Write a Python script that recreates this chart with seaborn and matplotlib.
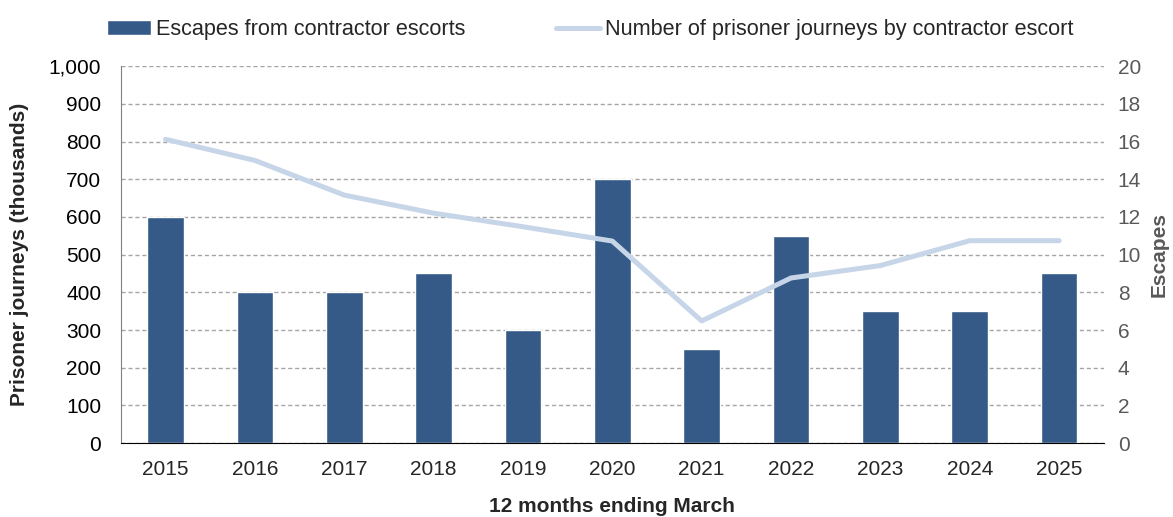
import numpy as np
import pandas as pd
import matplotlib
matplotlib.use("Agg")
import matplotlib.pyplot as plt
from matplotlib.ticker import FuncFormatter, FixedLocator
import seaborn as sns

years = ["2015", "2016", "2017", "2018", "2019", "2020",
         "2021", "2022", "2023", "2024", "2025"]
escapes = [12, 8, 8, 9, 6, 14, 5, 11, 7, 7, 9]
journeys = [806, 750, 658, 610, 574, 536, 324, 438, 471, 537, 537]

bar_label = "Escapes from contractor escorts"
line_label = "Number of prisoner journeys by contractor escort"

data = pd.DataFrame({"year": years, "escapes": escapes, "journeys": journeys})

sns.set_style("white")
plt.rcParams["font.family"] = ["Liberation Sans", "DejaVu Sans"]

fig, ax = plt.subplots(figsize=(11.73, 5.17), dpi=100)
fig.subplots_adjust(left=0.103, right=0.941, bottom=0.143, top=0.872)
ax2 = ax.twinx()

# bars on the right axis (escapes), drawn underneath the line axis
sns.barplot(data=data, x="year", y="escapes", ax=ax2, color="#355a87",
            width=0.41, saturation=1, label=bar_label)
ax2.set_ylim(0, 20)
ax2.set_yticks(range(0, 21, 2))
ax2.grid(axis="y", color="#a6a6a6", linestyle=(0, (3, 2)), linewidth=1)
ax2.set_axisbelow(True)
ax2.tick_params(axis="y", colors="#595959", labelsize=15, length=0, pad=10)
ax2.set_ylabel("Escapes", fontsize=15, fontweight="bold", color="#595959", labelpad=6)

# line on the left axis (journeys)
ax.set_zorder(ax2.get_zorder() + 1)
ax.patch.set_visible(False)
sns.lineplot(x=np.arange(len(years)), y=data["journeys"], ax=ax, color="#c6d5e8",
             linewidth=3.6, solid_capstyle="round", label=line_label)
ax.set_ylim(0, 1000)
ax.set_yticks(range(0, 1001, 100))
ax.yaxis.set_major_formatter(FuncFormatter(lambda v, p: f"{int(v):,}"))
ax.tick_params(axis="y", colors="black", labelsize=15, length=0, pad=14)
ax.set_ylabel("Prisoner journeys (thousands)", fontsize=15, fontweight="bold", labelpad=14)

for a in (ax, ax2):
    a.set_xlim(-0.5, len(years) - 0.5)
    a.xaxis.set_major_locator(FixedLocator(np.arange(-0.5, len(years), 1)))
    a.xaxis.set_minor_locator(FixedLocator(np.arange(len(years))))
    a.set_xticklabels([], minor=False)
    a.set_xlabel("")
ax.set_xticklabels(years, minor=True)
ax.tick_params(axis="x", which="major", length=6, color="black", width=1)
ax.tick_params(axis="x", which="minor", length=0, labelsize=15, pad=12)
ax2.tick_params(axis="x", which="both", length=0, labelbottom=False)
ax.set_xlabel("12 months ending March", fontsize=15, fontweight="bold", labelpad=13)

for a in (ax, ax2):
    for s in ("top", "right", "left", "bottom"):
        a.spines[s].set_visible(False)
ax.spines["left"].set_visible(True)
ax.spines["left"].set_color("#808080")
ax.spines["bottom"].set_visible(True)
ax.spines["bottom"].set_color("black")

h1, l1 = ax2.get_legend_handles_labels()
h2, l2 = ax.get_legend_handles_labels()
for a in (ax, ax2):
    if a.get_legend():
        a.get_legend().remove()
fig.legend(h1 + h2, l1 + l2, loc="upper center", bbox_to_anchor=(0.503, 1.0),
           ncol=2, frameon=False, fontsize=15.6, handlelength=2.05,
           handletextpad=0.2, columnspacing=4.2)

fig.savefig("out.png", dpi=100)
